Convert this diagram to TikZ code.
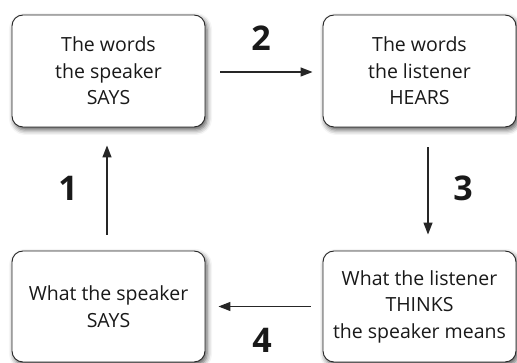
\documentclass[tikz,border=0pt]{standalone}
\usepackage{fontspec}
\setmainfont{Open Sans}
\usetikzlibrary{arrows.meta,shadows.blur}
\begin{document}
\begin{tikzpicture}[x=1pt,y=1pt,
  box/.style={draw=black!85, line width=0.9pt, fill=white, rounded corners=11pt,
    minimum width=193pt, minimum height=112pt, inner sep=0pt, align=center,
    font=\fontsize{19.5}{26.5}\selectfont, text=black!90,
    blur shadow={shadow xshift=2pt, shadow yshift=-3pt, shadow blur radius=5pt, shadow opacity=65}},
  flow/.style={line width=1.3pt, draw=black!85, -{Triangle[length=12pt,width=9pt]}},
  num/.style={font=\fontsize{34}{34}\bfseries\selectfont, text=black!90, inner sep=0pt}]
\useasboundingbox (0,0) rectangle (517,363);
\node[box] (says)  at (108.5,292) {The words\\the speaker\\SAYS};
\node[box] (hears) at (419.5,292) {The words\\the listener\\HEARS};
\node[box, minimum height=111pt] (thinks) at (419.5,56.5) {What the listener\\THINKS\\the speaker means};
\node[box, minimum height=111pt] (what)   at (108.5,56.5) {What the speaker\\SAYS};
\draw[flow, shorten <=15pt, shorten >=10pt] ([yshift=-1pt]says.east) -- ([yshift=-1pt]hears.west);
\draw[flow, shorten <=20pt, shorten >=16pt] ([xshift=8.5pt]hears.south) -- ([xshift=8.5pt]thinks.north);
\draw[flow, shorten <=12pt, shorten >=13pt] (thinks.west) -- (what.east);
\draw[flow, shorten <=16pt, shorten >=18pt] ([xshift=-1.5pt]what.north) -- ([xshift=-1.5pt]says.south);
\node[num] (n1) at (68,175) {1};
\node[num] (n2) at (261,325) {2};
\node[num] (n3) at (463,175) {3};
\node[num] (n4) at (262,23) {4};
\end{tikzpicture}
\end{document}
